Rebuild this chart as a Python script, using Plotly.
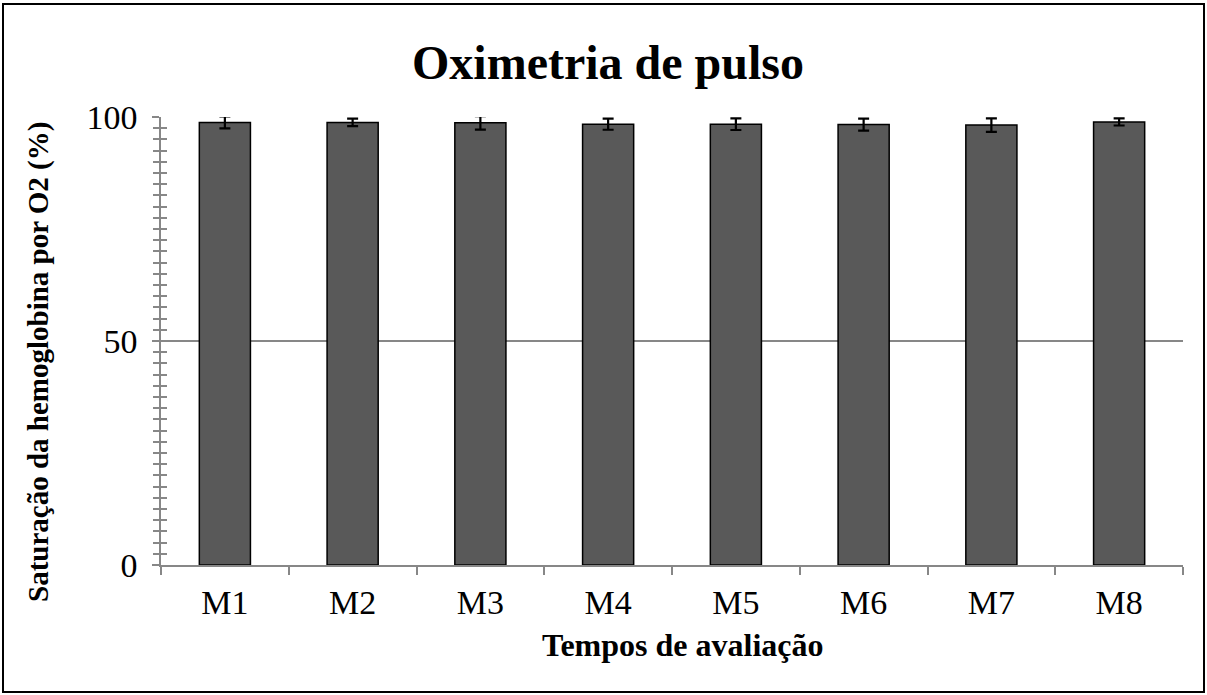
import plotly.graph_objects as go

categories = ["M1", "M2", "M3", "M4", "M5", "M6", "M7", "M8"]
means = [98.8, 98.8, 98.7, 98.4, 98.4, 98.3, 98.2, 98.9]
sds = [1.35, 0.85, 1.5, 1.25, 1.3, 1.35, 1.5, 0.8]
y_ticks = [0, 50, 100]

W, H = 1207, 695
L, R, T, B = 161, 24, 117, 130
PW, PH = W - L - R, H - T - B

def px_x(p):
    return (p - L) / PW

def px_y(p):
    return (H - B - p) / PH

FONT = "Liberation Serif"
GRAY = "#878787"

fig = go.Figure()
fig.add_trace(go.Bar(
    x=categories, y=means,
    marker=dict(color="#595959", line=dict(color="black", width=1.5)),
    error_y=dict(type="data", array=sds, visible=True, color="black", thickness=2.2, width=5.5),
    width=0.4,
))
fig.add_trace(go.Scatter(x=categories, y=means, yaxis="y2", mode="markers",
                         marker=dict(opacity=0), hoverinfo="skip", showlegend=False))

fig.update_layout(
    width=W, height=H,
    margin=dict(l=L, r=R, t=T, b=B),
    paper_bgcolor="white", plot_bgcolor="white",
    showlegend=False,
    title=dict(text="<b>Oximetria de pulso</b>", x=608 / W, xanchor="center",
               y=1 - 62 / H, yanchor="middle",
               font=dict(family=FONT, size=48, color="black")),
    font=dict(family=FONT, color="black"),
    xaxis=dict(
        type="category", showline=True, linecolor=GRAY, linewidth=1.5,
        ticks="outside", tickson="boundaries", ticklen=8, tickcolor=GRAY, tickwidth=1.5,
        tickfont=dict(family=FONT, size=34, color="black"), showgrid=False,
        range=[-0.5, 7.5], ticklabelstandoff=6,
    ),
    yaxis=dict(
        range=[0, 100], tickvals=y_ticks, showline=True, linecolor=GRAY, linewidth=1.5,
        ticks="outside", ticklen=7, tickcolor=GRAY, tickwidth=1.5,
        minor=dict(dtick=2.5, ticks="outside", ticklen=6, tickcolor=GRAY, tickwidth=1.5, showgrid=False),
        showgrid=True, gridcolor=GRAY, gridwidth=1.5, zeroline=False,
        tickfont=dict(family=FONT, size=34, color="black"), ticklabelstandoff=8,
    ),
    yaxis2=dict(
        range=[0, 100], overlaying="y", side="left", tickvals=y_ticks, showticklabels=False,
        ticks="inside", ticklen=7, tickcolor=GRAY, tickwidth=1.5,
        minor=dict(dtick=2.5, ticks="inside", ticklen=6, tickcolor=GRAY, tickwidth=1.5, showgrid=False),
        showgrid=False, zeroline=False, showline=False,
    ),
    bargap=0.6,
)

fig.add_annotation(text="<b>Tempos de avaliação</b>", xref="paper", yref="paper",
                   x=px_x(683), y=px_y(645), xanchor="center", yanchor="middle",
                   showarrow=False, font=dict(family=FONT, size=32, color="black"))
fig.add_annotation(text="<b>Saturação da hemoglobina por O2 (%)</b>", xref="paper", yref="paper",
                   x=px_x(38), y=px_y(362), xanchor="center", yanchor="middle", textangle=-90,
                   showarrow=False, font=dict(family=FONT, size=29, color="black"))

fig.add_shape(type="rect", xref="paper", yref="paper",
              x0=px_x(3), x1=px_x(1204), y0=px_y(692), y1=px_y(4),
              line=dict(color="black", width=2), fillcolor="rgba(0,0,0,0)", layer="below")

fig.write_html("out.html", config={"displayModeBar": False},
               post_script="document.body.style.margin='0';document.body.style.overflow='hidden';")
